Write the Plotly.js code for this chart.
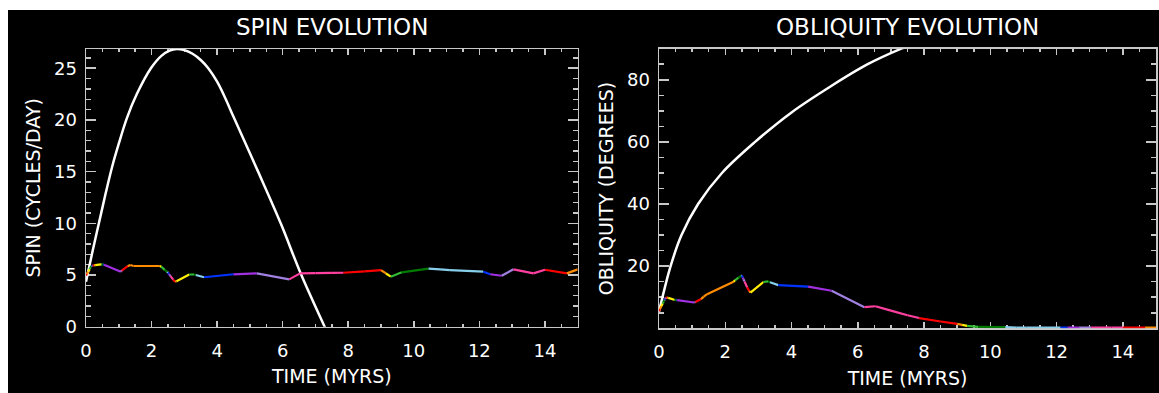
<!DOCTYPE html>
<html>
<head>
<meta charset="utf-8">
<script src="https://cdn.plot.ly/plotly-3.0.1.min.js"></script>
<style>
  html, body { margin: 0; padding: 0; background: #ffffff; width: 1159px; height: 393px; overflow: hidden; }
  #chart { position: absolute; left: 8px; top: 10px; width: 1151px; height: 383px; }
</style>
</head>
<body>
<div id="chart"></div>
<script>
// ---------------- DATA ----------------
// White reference curves
const spinCurveTime = [0, 0.2, 0.4, 0.6, 0.8, 1.0, 1.25, 1.55, 1.98, 2.3, 2.55, 2.77, 3.0, 3.25, 3.5, 3.73, 4.0, 4.25, 4.5, 5.25, 5.94, 6.57, 7.28, 7.6];
const spinCurveValue = [4.35, 7.3, 10.1, 12.9, 15.5, 17.7, 20.2, 22.5, 25.0, 26.2, 26.7, 26.86, 26.75, 26.4, 25.8, 25.0, 23.7, 22.1, 20.3, 15.0, 10.0, 5.0, 0, -2.2];

const oblCurveTime = [0, 0.35, 0.68, 1.18, 1.9, 2.9, 4.0, 5.2, 6.3, 7.31, 7.8];
const oblCurveValue = [5.3, 20, 30, 40, 50, 60, 69.5, 78, 85, 90, 92];

// Multi-coloured evolution track (shared time nodes)
const nodeTime = [0, 0.03, 0.07, 0.11, 0.14, 0.16, 0.17, 0.18, 0.19, 0.2,
  0.21, 0.24, 0.28, 0.46, 0.5, 0.52, 0.53, 0.55, 1.06, 1.08,
  1.1, 1.27, 1.35, 1.45, 2.25, 2.3, 2.4, 2.48, 2.5, 2.53,
  2.55, 2.58, 2.66, 2.72, 2.76, 3.15, 3.3, 3.35, 3.6, 4.5,
  5.21, 6.2, 6.53, 7.0, 7.5, 7.85, 8.5, 9.0, 9.15, 9.3,
  9.63, 10.45, 10.8, 11.1, 12.12, 12.33, 12.68, 13.04, 13.65, 14.0,
  14.67, 15.0];
const spinNode = [4.95, 5.1, 5.35, 5.55, 5.75, 5.85, 5.88, 5.9, 5.91, 5.91,
  5.92, 5.93, 5.95, 6.02, 6.03, 6.02, 6.01, 6.0, 5.32, 5.38,
  5.45, 5.85, 5.97, 5.87, 5.87, 5.8, 5.5, 5.3, 5.22, 5.1,
  5.0, 4.9, 4.55, 4.35, 4.4, 5.05, 5.05, 5.0, 4.78, 5.07,
  5.16, 4.58, 5.16, 5.18, 5.2, 5.22, 5.35, 5.48, 5.15, 4.84,
  5.26, 5.61, 5.55, 5.48, 5.32, 5.07, 4.93, 5.55, 5.16, 5.51,
  5.16, 5.55];
const oblNode = [5.5, 6.2, 7.1, 8.0, 8.6, 9.0, 9.2, 9.4, 9.6, 9.8,
  9.9, 9.9, 9.8, 9.2, 9.1, 9.08, 9.07, 9.05, 8.3, 8.4,
  8.5, 9.4, 10.2, 11.0, 15.0, 15.5, 16.3, 16.9, 17.0, 16.3,
  15.8, 15.1, 13.2, 12.0, 11.5, 14.9, 15.1, 14.8, 13.9, 13.4,
  12.1, 6.8, 7.1, 5.7, 4.2, 3.3, 2.2, 1.4, 1.1, 0.8,
  0.45, 0.35, 0.2, 0.2, 0.2, 0.2, 0.2, 0.2, 0.2, 0.2,
  0.2, 0.2];
// Start times of successive integration stages (each stage drawn in the next colour)
const stageStart = [0, 0.03, 0.07, 0.11, 0.14, 0.16, 0.17, 0.18, 0.19, 0.2,
  0.21, 0.24, 0.28, 0.46, 0.5, 0.52, 0.53, 0.55, 1.06, 1.08,
  1.1, 1.27, 2.25, 2.3, 2.4, 2.48, 2.5, 2.53, 2.55, 2.58,
  2.66, 2.72, 2.76, 3.15, 3.3, 3.35, 3.6, 4.5, 5.21, 6.2,
  7.85, 9.0, 9.15, 9.3, 9.63, 10.45, 12.12, 12.33, 12.68, 13.04,
  14.0, 14.67];

const xTicks = [0, 2, 4, 6, 8, 10, 12, 14];
const spinTicks = [0, 5, 10, 15, 20, 25];
const oblTicks = [20, 40, 60, 80];

// ---------------- STYLE ----------------
const palette = ['#ff0000', '#ff8c00', '#ffee00', '#33bb33', '#007a00',
                 '#87ceeb', '#0033ff', '#a030e0', '#a080e0', '#ff40a0'];
const axisC = '#c8c8c8';
const FONT = 'DejaVu Sans, Liberation Sans, sans-serif';
const W = 1151, H = 383;

function stageOf(t) {
  let s = -1;
  for (const st of stageStart) if (st <= t + 1e-9) s++;
  return s;
}

function colouredTraces(vals, xa, ya) {
  const traces = [];
  for (let c = 0; c < palette.length; c++) {
    const xs = [], ys = [];
    for (let i = 0; i < nodeTime.length - 1; i++) {
      if (stageOf(nodeTime[i]) % palette.length === c) {
        xs.push(nodeTime[i], nodeTime[i + 1], null);
        ys.push(vals[i], vals[i + 1], null);
      }
    }
    traces.push({x: xs, y: ys, xaxis: xa, yaxis: ya, mode: 'lines',
      line: {color: palette[c], width: 2.2}, hoverinfo: 'skip', showlegend: false});
  }
  return traces;
}

const data = [
  {x: spinCurveTime, y: spinCurveValue, xaxis: 'x', yaxis: 'y', mode: 'lines',
   line: {color: '#ffffff', width: 2.5, shape: 'spline', smoothing: 1}, showlegend: false},
  ...colouredTraces(spinNode, 'x', 'y'),
  {x: oblCurveTime, y: oblCurveValue, xaxis: 'x2', yaxis: 'y2', mode: 'lines',
   line: {color: '#ffffff', width: 2.5, shape: 'spline', smoothing: 1}, showlegend: false},
  ...colouredTraces(oblNode, 'x2', 'y2')
];

function xAxis(domain, anchor) {
  return {
    domain: domain, anchor: anchor, range: [0, 15], tickvals: xTicks,
    ticks: 'inside', ticklen: 6, tickwidth: 1.5, tickcolor: axisC,
    showline: true, linecolor: axisC, linewidth: 1.5, mirror: 'ticks',
    showgrid: false, zeroline: false, automargin: false, layer: 'below traces',
    minor: {dtick: 0.5, ticks: 'inside', ticklen: 3, tickwidth: 1.5, tickcolor: axisC, showgrid: false},
    tickfont: {family: FONT, size: 18, color: '#ffffff'}, ticklabelstandoff: 7,
    title: {text: 'TIME (MYRS)', font: {family: FONT, size: 19, color: '#ffffff'}, standoff: 10}
  };
}
function yAxis(domain, anchor, range, ticks, dminor, title) {
  return {
    domain: domain, anchor: anchor, range: range, tickvals: ticks,
    ticks: 'inside', ticklen: 10, tickwidth: 1.5, tickcolor: axisC,
    showline: true, linecolor: axisC, linewidth: 1.5, mirror: 'ticks',
    showgrid: false, zeroline: false, automargin: false, layer: 'below traces',
    minor: {dtick: dminor, ticks: 'inside', ticklen: 5, tickwidth: 1.5, tickcolor: axisC, showgrid: false},
    tickfont: {family: FONT, size: 18, color: '#ffffff'}, ticklabelstandoff: 4,
    title: {text: title, font: {family: FONT, size: 19, color: '#ffffff'}, standoff: 8}
  };
}

const xd1 = [78 / W, 569.7 / W], xd2 = [651 / W, 1148 / W];
const yd1 = [(H - 316.7) / H, (H - 39) / H], yd2 = [(H - 318.3) / H, (H - 38.7) / H];

const layout = {
  width: W, height: H,
  margin: {l: 0, r: 0, t: 0, b: 0, pad: 0},
  paper_bgcolor: '#000000', plot_bgcolor: '#000000',
  font: {family: FONT, color: '#ffffff'},
  showlegend: false,
  xaxis: xAxis(xd1, 'y'),
  yaxis: yAxis(yd1, 'x', [0, 26.86], spinTicks, 1, 'SPIN (CYCLES/DAY)'),
  xaxis2: xAxis(xd2, 'y2'),
  yaxis2: yAxis(yd2, 'x2', [0, 90], oblTicks, 5, 'OBLIQUITY (DEGREES)'),
  annotations: [
    {text: 'SPIN EVOLUTION', xref: 'paper', yref: 'paper', x: (xd1[0] + xd1[1]) / 2, y: 1 - 17 / H,
     xanchor: 'center', yanchor: 'middle', showarrow: false, font: {family: FONT, size: 23, color: '#ffffff'}},
    {text: 'OBLIQUITY EVOLUTION', xref: 'paper', yref: 'paper', x: (xd2[0] + xd2[1]) / 2, y: 1 - 17 / H,
     xanchor: 'center', yanchor: 'middle', showarrow: false, font: {family: FONT, size: 23, color: '#ffffff'}}
  ]
};

Plotly.newPlot('chart', data, layout, {staticPlot: true, displayModeBar: false});
</script>
</body>
</html>
